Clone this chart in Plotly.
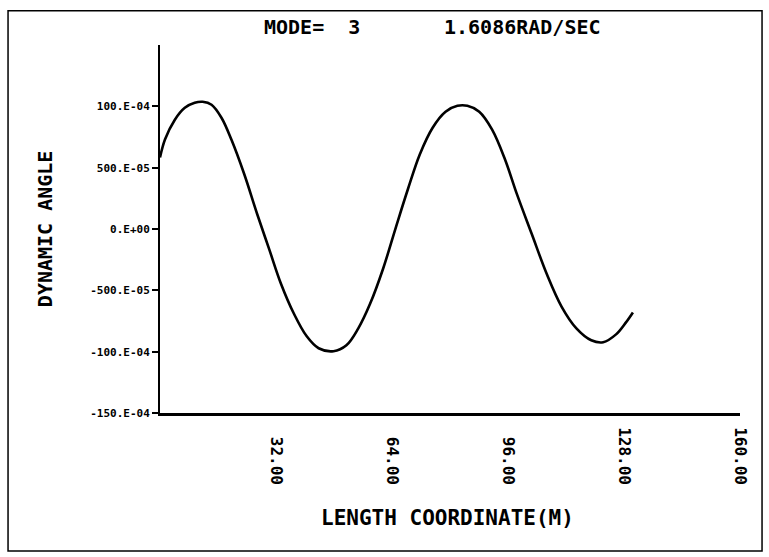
import plotly.graph_objects as go

# Data (length coordinate in m, dynamic angle)
length_m = [0.0, 1.37, 4.10, 6.84, 9.57, 11.76, 14.22, 16.96, 19.69, 23.25, 26.80,
            30.09, 33.37, 36.92, 40.48, 43.76, 47.86, 51.42, 54.70, 57.98, 61.54,
            65.09, 68.38, 71.66, 75.21, 78.77, 82.05, 84.79, 88.07, 91.62, 95.18,
            98.46, 102.56, 106.67, 110.77, 114.87, 118.97, 122.26, 125.81, 128.55, 130.46]
dynamic_angle = [0.00583, 0.00729, 0.00891, 0.00988, 0.01029, 0.01037, 0.01013, 0.00907,
                 0.00729, 0.00446, 0.00122, -0.00162, -0.00446, -0.00689, -0.00875,
                 -0.00972, -0.00996, -0.00948, -0.00810, -0.00608, -0.00324, 0.00016,
                 0.00324, 0.00608, 0.00826, 0.00956, 0.01004, 0.01004, 0.00956, 0.00810,
                 0.00567, 0.00284, -0.00041, -0.00365, -0.00632, -0.00810, -0.00907,
                 -0.00923, -0.00859, -0.00761, -0.00680]

y_tickvals = [-0.015, -0.010, -0.005, 0.0, 0.005, 0.010]
y_ticktext = ["-150.E-04", "-100.E-04", "-500.E-05", "0.E+00", "500.E-05", "100.E-04"]
x_tickvals = [32, 64, 96, 128, 160]
x_ticktext = ["\u00a032.00", "\u00a064.00", "\u00a096.00", "128.00", "160.00"]

title_mode = "MODE=  3"
title_freq = "1.6086RAD/SEC"
x_title = "LENGTH COORDINATE(M)"
y_title = "DYNAMIC ANGLE"

FONT = "DejaVu Sans Mono"

fig = go.Figure()
fig.add_trace(go.Scatter(x=length_m, y=dynamic_angle, mode="lines",
                         line=dict(color="black", width=2.6, shape="spline"),
                         showlegend=False, hoverinfo="skip"))

fig.update_layout(
    width=769, height=557,
    margin=dict(l=160, r=29, t=45, b=144),
    paper_bgcolor="white", plot_bgcolor="white",
    xaxis=dict(range=[0, 160], tickmode="array", tickvals=x_tickvals, ticktext=x_ticktext,
               tickangle=90, ticks="", ticklabelstandoff=8,
               tickfont=dict(family=FONT, size=16, color="black", weight="bold"),
               showgrid=False, zeroline=False, showline=True, linecolor="black", linewidth=3),
    yaxis=dict(range=[-0.015, 0.015], tickmode="array", tickvals=y_tickvals, ticktext=y_ticktext,
               ticks="outside", ticklen=6, tickwidth=2, tickcolor="black",
               tickfont=dict(family=FONT, size=11, color="black", weight="bold"),
               showgrid=False, zeroline=False, showline=True, linecolor="black", linewidth=2),
    annotations=[
        dict(text=title_mode, x=0.175, y=1.049, xref="paper", yref="paper", xanchor="left",
             yanchor="middle", showarrow=False,
             font=dict(family=FONT, size=20, color="black", weight="bold")),
        dict(text=title_freq, x=0.487, y=1.049, xref="paper", yref="paper", xanchor="left",
             yanchor="middle", showarrow=False,
             font=dict(family=FONT, size=20, color="black", weight="bold")),
        dict(text=x_title, x=0.495, y=-0.285, xref="paper", yref="paper", xanchor="center",
             yanchor="middle", showarrow=False,
             font=dict(family=FONT, size=21, color="black", weight="bold")),
        dict(text=y_title, x=-0.198, y=0.50, xref="paper", yref="paper", xanchor="center",
             yanchor="middle", showarrow=False, textangle=-90,
             font=dict(family=FONT, size=20, color="black", weight="bold")),
    ],
    shapes=[
        dict(type="rect", xref="paper", yref="paper", x0=-0.262, x1=1.038, y0=-0.375, y1=1.093,
             line=dict(color="black", width=1.5)),
    ],
)

fig.write_html("out.html")
